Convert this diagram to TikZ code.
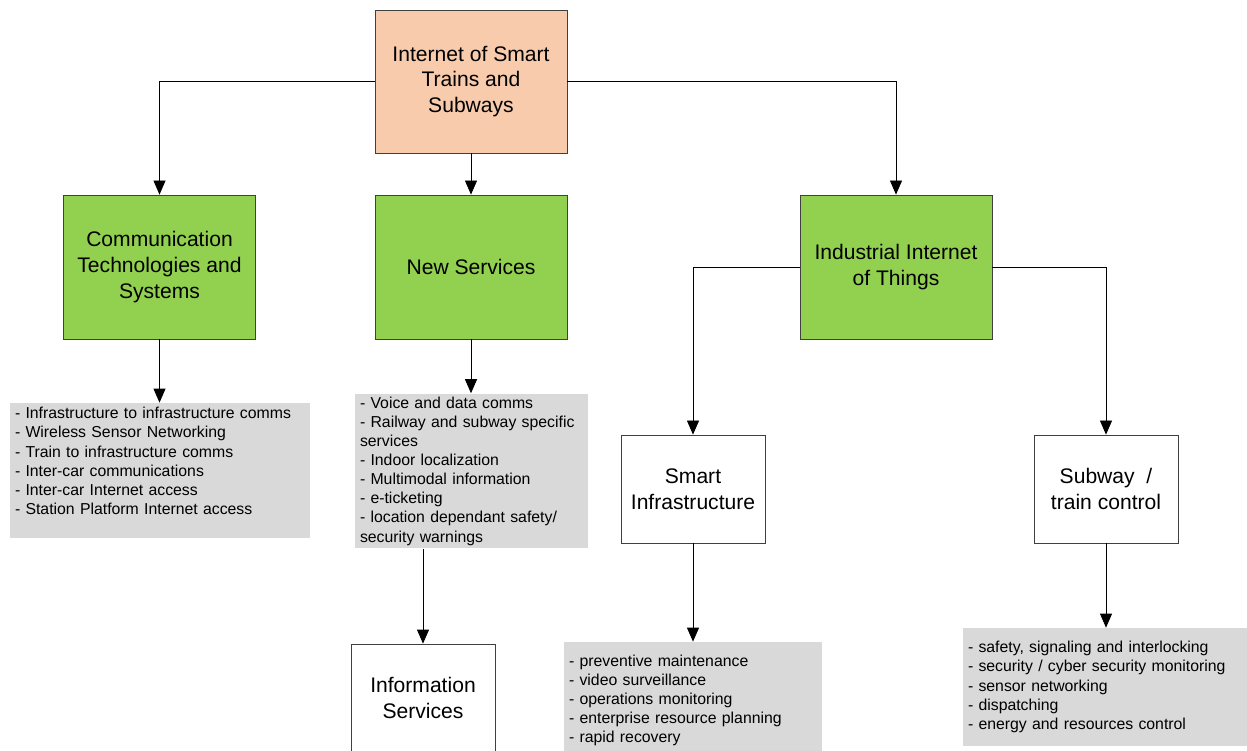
\documentclass[tikz,border=0pt]{standalone}
\usepackage{fontspec}
\setmainfont{Liberation Sans}
\usetikzlibrary{arrows.meta,positioning}

\definecolor{peach}{HTML}{F8CBAD}
\definecolor{leafgreen}{HTML}{92D050}
\definecolor{notegray}{HTML}{D9D9D9}
\definecolor{edge}{HTML}{404040}

\begin{document}
\begin{tikzpicture}[
    root/.style={draw=edge, line width=0.45pt, fill=peach, minimum width=3.84cm, minimum height=2.86cm, align=center, font=\fontsize{12}{14.7}\selectfont},
    topic/.style={draw=edge, line width=0.45pt, fill=leafgreen, minimum width=3.84cm, minimum height=2.88cm, align=center, font=\fontsize{12}{14.7}\selectfont},
    leaf/.style={draw=edge, line width=0.45pt, fill=white, minimum width=2.88cm, minimum height=2.16cm, align=center, font=\fontsize{12}{14.7}\selectfont},
    notes/.style={fill=notegray, inner xsep=0.1cm, inner ysep=0.06cm, align=left, font=\fontsize{9}{10.9}\selectfont},
    arr/.style={-{Triangle[length=0.28cm, width=0.24cm]}, line width=0.45pt}
]
\useasboundingbox (0,0) rectangle (24.94,-15.02);

\node[root] (T) at (9.42,-1.63) {Internet of Smart\\Trains and\\Subways};

\node[topic] (C) at (3.19,-5.34) {Communication\\Technologies and\\Systems};
\node[topic] (N) at (9.42,-5.34) {New Services};
\node[topic] (I) at (17.92,-5.34) {Industrial Internet\\of Things};

\node[leaf] (SI) at (13.86,-9.78) {Smart\\Infrastructure};
\node[leaf] (SC) at (22.12,-9.78) {Subway~~/\\train control};
\node[leaf] (IS) at (8.46,-13.96) {Information\\Services};

\node[notes, minimum width=6cm, minimum height=2.7cm, text width=5.8cm] (L1) at (3.20,-9.41)
  {- Infrastructure to infrastructure comms\\- Wireless Sensor Networking\\- Train to infrastructure comms\\- Inter-car communications\\- Inter-car Internet access\\- Station Platform Internet access\\~};
\node[notes, minimum width=4.66cm, minimum height=3.04cm, text width=4.46cm] (L2) at (9.43,-9.42)
  {- Voice and data comms\\- Railway and subway specific\\services\\- Indoor localization\\- Multimodal information\\- e-ticketing\\- location dependant safety/\\security warnings};
\node[notes, minimum width=5.16cm, minimum height=2.34cm, text width=4.96cm] (L3) at (13.86,-14.01)
  {- preventive maintenance\\- video surveillance\\- operations monitoring\\- enterprise resource planning\\- rapid recovery};
\node[notes, minimum width=5.68cm, minimum height=2.36cm, text width=5.48cm] (L4) at (22.10,-13.74)
  {- safety, signaling and interlocking\\- security / cyber security monitoring\\- sensor networking\\- dispatching\\- energy and resources control};

% top level
\draw[arr] (T.west) -| (C.north);
\draw[arr] (T.south) -- (N.north);
\draw[arr] (T.east) -| (I.north);

% second level
\draw[arr] (C.south) -- (C.south |- L1.north);
\draw[arr] (N.south) -- (N.south |- L2.north);
\draw[arr] (IS.north |- L2.south) -- (IS.north);
\draw[arr] (I.west) -| (SI.north);
\draw[arr] (I.east) -| (SC.north);

% third level
\draw[arr] (SI.south) -- (SI.south |- L3.north);
\draw[arr] (SC.south) -- (SC.south |- L4.north);
\end{tikzpicture}
\end{document}
